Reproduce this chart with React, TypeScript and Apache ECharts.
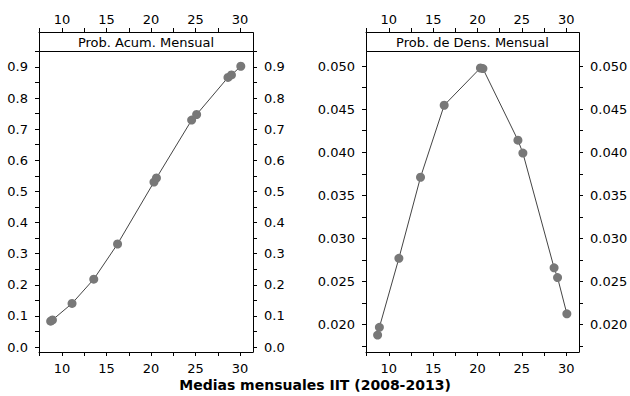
import React, { useEffect, useRef } from "react";
import * as echarts from "echarts";

// Monthly means of the IIT index (2008-2013) and their probabilities
const monthlyMeans = [8.73, 8.93, 11.13, 13.57, 16.24, 20.33, 20.61, 24.56, 25.12, 28.64, 29.03, 30.08];
const cumulativeProb = [0.083, 0.087, 0.14, 0.218, 0.331, 0.53, 0.543, 0.729, 0.747, 0.866, 0.874, 0.902];
const densityProb = [0.0188, 0.0197, 0.0277, 0.0371, 0.04545, 0.04977, 0.0497, 0.0414, 0.0399, 0.0266, 0.02547, 0.02127];

const panelTitles = ["Prob. Acum. Mensual", "Prob. de Dens. Mensual"];
const axisTitle = "Medias mensuales IIT (2008-2013)";

const xTickLabels = [10, 15, 20, 25, 30];
const xTicks = [7.5, 10, 12.5, 15, 17.5, 20, 22.5, 25, 27.5, 30];
const cumTickLabels = [0, 0.1, 0.2, 0.3, 0.4, 0.5, 0.6, 0.7, 0.8, 0.9];
const cumTicks = [0, 0.05, 0.1, 0.15, 0.2, 0.25, 0.3, 0.35, 0.4, 0.45, 0.5, 0.55, 0.6, 0.65, 0.7, 0.75, 0.8, 0.85, 0.9, 0.95];
const densTickLabels = [0.02, 0.025, 0.03, 0.035, 0.04, 0.045, 0.05];
const densTicks = [0.0175, 0.02, 0.0225, 0.025, 0.0275, 0.03, 0.0325, 0.035, 0.0375, 0.04, 0.0425, 0.045, 0.0475, 0.05];

const FONT = "DejaVu Sans";
const INK = "#000";

// panel frames (plot area, below the strip)
const panels = [
  { left: 39, top: 51, width: 214, height: 301 },
  { left: 366, top: 51, width: 213, height: 301 },
];
const STRIP_H = 19;

const labelStyle = { fontFamily: FONT, fontSize: 13, color: INK };

function xAxisFor(grid: number, position: "top" | "bottom") {
  return {
    type: "value",
    gridIndex: grid,
    position,
    offset: position === "top" ? STRIP_H : 0,
    min: 7.42,
    max: 31.45,
    axisLine: { show: true, onZero: false, lineStyle: { color: INK, width: 1 } },
    axisTick: { show: true, length: 4, customValues: xTicks, lineStyle: { color: INK, width: 1 } },
    axisLabel: {
      ...labelStyle,
      show: true,
      customValues: xTickLabels,
      margin: position === "top" ? 6 : 10,
      formatter: (v: number) => String(v),
    },
    splitLine: { show: false },
  };
}

function yAxisFor(
  grid: number,
  position: "left" | "right",
  min: number,
  max: number,
  ticks: number[],
  labels: number[],
  digits: number
) {
  return {
    type: "value",
    gridIndex: grid,
    position,
    min,
    max,
    axisLine: { show: true, onZero: false, lineStyle: { color: INK, width: 1 } },
    axisTick: { show: true, length: 4, customValues: ticks, lineStyle: { color: INK, width: 1 } },
    axisLabel: {
      ...labelStyle,
      show: true,
      customValues: labels,
      margin: 11,
      formatter: (v: number) => v.toFixed(digits),
    },
    splitLine: { show: false },
  };
}

function seriesFor(grid: number, values: number[]) {
  return {
    type: "line",
    xAxisIndex: grid * 2,
    yAxisIndex: grid * 2,
    data: monthlyMeans.map((x, i) => [x, values[i]]),
    symbol: "circle",
    symbolSize: 9,
    showSymbol: true,
    itemStyle: { color: "#787878" },
    lineStyle: { color: "#444", width: 1 },
    z: 3,
  };
}

export default function App() {
  const ref = useRef<HTMLDivElement>(null);

  useEffect(() => {
    if (!ref.current) return;
    const chart = echarts.init(ref.current, undefined, { renderer: "svg" });

    const strips = panels.flatMap((p, i) => [
      {
        type: "rect",
        shape: { x: p.left + 0.5, y: p.top - STRIP_H + 0.5, width: p.width, height: STRIP_H },
        style: { fill: "#fff", stroke: INK, lineWidth: 1 },
        z: 10,
      },
      {
        type: "text",
        x: p.left + p.width / 2,
        y: p.top - STRIP_H / 2 + 0.5,
        style: {
          text: panelTitles[i],
          align: "center",
          verticalAlign: "middle",
          fontFamily: FONT,
          fontSize: 13,
          fill: INK,
        },
        z: 11,
      },
    ]);

    chart.setOption({
      animation: false,
      backgroundColor: "#fff",
      grid: panels.map((p) => ({
        left: p.left,
        top: p.top,
        width: p.width,
        height: p.height,
        containLabel: false,
        outerBoundsMode: "none",
      })),
      xAxis: [
        xAxisFor(0, "bottom"),
        xAxisFor(0, "top"),
        xAxisFor(1, "bottom"),
        xAxisFor(1, "top"),
      ],
      yAxis: [
        yAxisFor(0, "left", -0.016, 0.951, cumTicks, cumTickLabels, 1),
        yAxisFor(0, "right", -0.016, 0.951, cumTicks, cumTickLabels, 1),
        yAxisFor(1, "left", 0.01684, 0.05174, densTicks, densTickLabels, 3),
        yAxisFor(1, "right", 0.01684, 0.05174, densTicks, densTickLabels, 3),
      ],
      series: [seriesFor(0, cumulativeProb), seriesFor(1, densityProb)],
      graphic: [
        ...strips,
        {
          type: "text",
          x: 315,
          y: 385,
          style: {
            text: axisTitle,
            align: "center",
            verticalAlign: "middle",
            fontFamily: FONT,
            fontWeight: "bold",
            fontSize: 14,
            fill: INK,
          },
        },
      ],
    });

    return () => chart.dispose();
  }, []);

  return (
    <div
      ref={ref}
      style={{ position: "fixed", left: 0, top: 0, width: 630, height: 396, background: "#fff" }}
    />
  );
}
